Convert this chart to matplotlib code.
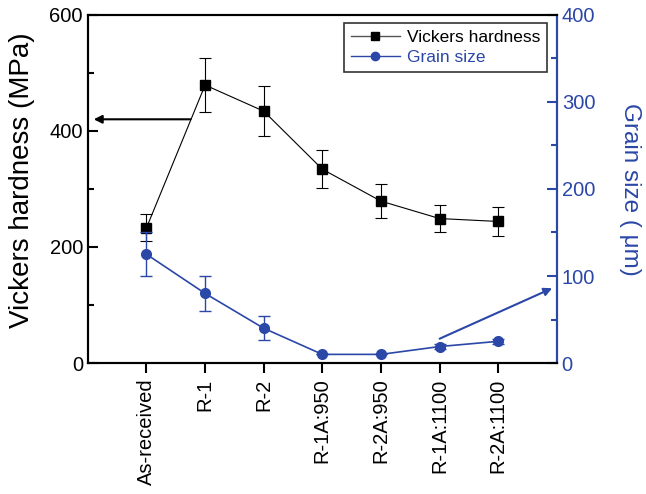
import matplotlib
matplotlib.use("Agg")
import matplotlib.pyplot as plt
from matplotlib.lines import Line2D
import numpy as np

plt.rcParams['font.family'] = ['Liberation Sans', 'DejaVu Sans']

samples = ["As-received", "R-1", "R-2", "R-1A:950", "R-2A:950", "R-1A:1100", "R-2A:1100"]
hardness = [233, 479, 434, 334, 279, 249, 244]
hardnessErr = [23, 47, 43, 33, 29, 24, 25]
grainSize = [125, 80, 40, 10, 10, 19, 25]
grainErr = [25, 20, 14, 0, 0, 3, 3]

blue = '#2b47a7'
x = np.arange(len(samples))

fig = plt.figure(figsize=(6.46, 4.94), dpi=100)
ax = fig.add_axes([0.136, 0.265, 0.726, 0.705])
ax2 = ax.twinx()

ax.errorbar(x, hardness, yerr=hardnessErr, color='black', lw=0.8, marker='s',
            markersize=7, capsize=4, elinewidth=0.8, capthick=0.8, zorder=3)
ax2.errorbar(x, grainSize, yerr=grainErr, color=blue, lw=1.2, marker='o',
             markersize=7, capsize=4, elinewidth=1.0, capthick=1.0, zorder=3)

ax.set_xlim(-1, 7)
ax.set_ylim(0, 600)
ax2.set_ylim(0, 400)
ax.set_xticks(x)
ax.set_xticklabels(samples, rotation=90, fontsize=14.5)
ax.set_yticks([0, 200, 400, 600])
ax.set_yticks([100, 300, 500], minor=True)
ax2.set_yticks([0, 100, 200, 300, 400])
ax2.set_yticks([50, 150, 250, 350], minor=True)

ax.tick_params(axis='y', direction='in', length=7, width=1.5, labelsize=14.5)
ax.tick_params(axis='y', which='minor', direction='in', length=4, width=1.5)
ax.tick_params(axis='x', direction='out', length=7, width=1.5, pad=4)
ax2.tick_params(axis='y', direction='in', length=7, width=1.5, labelsize=14.5,
                colors=blue)
ax2.tick_params(axis='y', which='minor', direction='in', length=4, width=1.5,
                colors=blue)

for sp in ax.spines.values():
    sp.set_linewidth(1.5)
for sp in ax2.spines.values():
    sp.set_linewidth(1.5)
ax2.spines['right'].set_color(blue)

ax.set_ylabel('Vickers hardness (MPa)', fontsize=20)
ax.yaxis.set_label_coords(-0.113, 0.526)
ax2.set_ylabel('Grain size ( \u03bcm)', fontsize=17.5, color=blue, rotation=270,
               labelpad=33)

# arrows pointing to the matching axes
ax.annotate('', xy=(-0.9, 420), xytext=(0.75, 420),
            arrowprops=dict(arrowstyle='-|>', color='black', lw=1.5,
                            mutation_scale=12, shrinkA=0, shrinkB=0))
ax2.annotate('', xy=(6.92, 86), xytext=(5.0, 28),
             arrowprops=dict(arrowstyle='-|>', color=blue, lw=1.5,
                             mutation_scale=12, shrinkA=0, shrinkB=0))

handles = [
    Line2D([], [], color='#555555', lw=1.0, marker='s', markersize=6,
           markerfacecolor='black', markeredgecolor='black'),
    Line2D([], [], color=blue, lw=1.0, marker='o', markersize=6,
           markerfacecolor=blue, markeredgecolor=blue),
]
leg = ax2.legend(handles, ['Vickers hardness', 'Grain size'], loc='upper right',
                 bbox_to_anchor=(0.979, 0.977), borderaxespad=0, fontsize=12.5,
                 frameon=True, fancybox=False, edgecolor='black', borderpad=0.4,
                 handlelength=2.8, handletextpad=0.4, labelspacing=0.3)
leg.get_frame().set_linewidth(1.2)
leg.get_texts()[1].set_color(blue)

fig.savefig('out.png', dpi=100)
